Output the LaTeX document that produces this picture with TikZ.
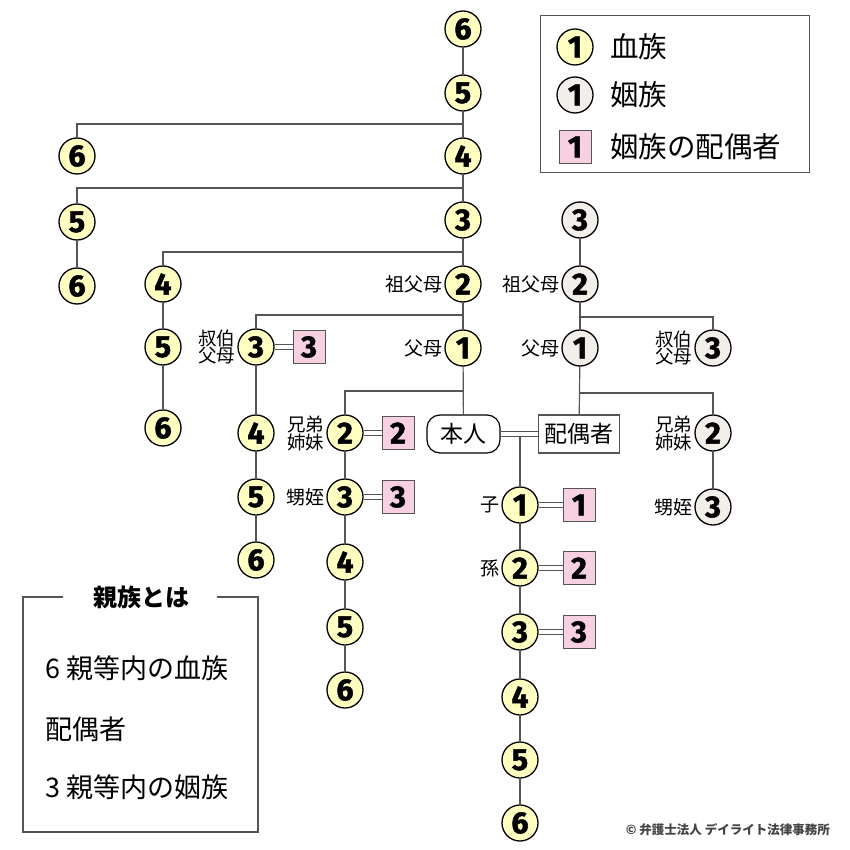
\documentclass[tikz,border=0pt]{standalone}
\usepackage{fontspec}
\newfontfamily\jp{Noto Sans CJK JP}
\newfontfamily\numfont[FakeBold=1.5]{Fira Sans Bold}
\usetikzlibrary{backgrounds}
\definecolor{bloodc}{HTML}{FFFFC2}
\definecolor{affc}{HTML}{F2EFEA}
\definecolor{pinkc}{HTML}{F7D0E2}
\definecolor{linec}{HTML}{555555}
\definecolor{copyc}{HTML}{444444}
\begin{document}
\begin{tikzpicture}[x=1pt,y=-1pt,
  blood/.style={circle, draw=black, line width=1.3pt, fill=bloodc, minimum size=36pt, inner sep=0pt,
    font=\numfont\fontsize{30.5pt}{30.5pt}\selectfont},
  affin/.style={blood, fill=affc},
  sp/.style={rectangle, draw=linec, line width=1pt, fill=pinkc, minimum width=32pt, minimum height=33pt, inner sep=0pt,
    font=\numfont\fontsize{30.5pt}{30.5pt}\selectfont},
  conn/.style={draw=linec, line width=1.2pt},
  dbl/.style={draw=linec, line width=1pt, double=white, double distance=3.2pt},
  lbl/.style={font=\jp\fontsize{19pt}{17pt}\selectfont, inner sep=0pt, align=right, label distance=2pt},
  lbltwo/.style={font=\jp\fontsize{18.5pt}{17pt}\selectfont, inner sep=0pt, align=right, label distance=2pt},
  boxtxt/.style={font=\jp\fontsize{23pt}{23pt}\selectfont, minimum height=38pt, inner sep=0pt},
  legtxt/.style={font=\jp\fontsize{28.5pt}{28.5pt}\selectfont, anchor=west, inner sep=0pt},
  infotxt/.style={font=\jp\fontsize{27pt}{27pt}\selectfont, anchor=west, inner sep=0pt},
]
\useasboundingbox (0,0) rectangle (850,850);

% main column
\node[blood] (m6) at (463,29) {6};
\node[blood] (m5) at (463,93) {5};
\node[blood] (m4) at (463,156) {4};
\node[blood] (m3) at (463,220) {3};
\node[blood, label={[lbl]west:祖父母}] (m2) at (463,284) {2};
\node[blood, label={[lbl]west:父母}] (m1) at (463,348) {1};
\node[boxtxt, draw=black, line width=1.2pt, rounded corners=13pt, minimum width=73pt] (self) at (463.5,434) {本人};
\node[boxtxt, draw=linec, line width=1.2pt, minimum width=81pt] (spouse) at (579,434) {配偶者};

% left branches
\node[blood] (a6) at (77,156) {6};
\node[blood] (b5) at (77,222) {5};
\node[blood] (b6) at (77,286) {6};
\node[blood] (c4) at (163,284) {4};
\node[blood] (c5) at (163,347) {5};
\node[blood] (c6) at (163,428) {6};
\node[blood, label={[lbltwo]west:叔伯\\父母}] (d3) at (256,347) {3};
\node[sp] (d3s) at (309,347) {3};
\node[blood] (d4) at (256,433) {4};
\node[blood] (d5) at (256,497) {5};
\node[blood] (d6) at (256,560) {6};
\node[blood, label={[lbltwo]west:兄弟\\姉妹}] (e2) at (345,433) {2};
\node[sp] (e2s) at (398,433) {2};
\node[blood, label={[lbl]west:甥姪}] (e3) at (345,497) {3};
\node[sp] (e3s) at (398,497) {3};
\node[blood] (e4) at (345,562) {4};
\node[blood] (e5) at (345,627) {5};
\node[blood] (e6) at (345,690) {6};

% spouse side
\node[affin] (s3) at (580,220) {3};
\node[affin, label={[lbl]west:祖父母}] (s2) at (580,284) {2};
\node[affin, label={[lbl]west:父母}] (s1) at (580,348) {1};
\node[affin, label={[lbltwo]west:叔伯\\父母}] (sd3) at (713,348) {3};
\node[affin, label={[lbltwo]west:兄弟\\姉妹}] (se2) at (713,433) {2};
\node[affin, label={[lbl]west:甥姪}] (se3) at (713,507) {3};

% children
\node[blood, label={[lbl]west:子}] (k1) at (520,505) {1};
\node[sp] (k1s) at (579,505) {1};
\node[blood, label={[lbl]west:孫}] (k2) at (520,568) {2};
\node[sp] (k2s) at (579,568) {2};
\node[blood] (k3) at (520,632) {3};
\node[sp] (k3s) at (579,632) {3};
\node[blood] (k4) at (520,697) {4};
\node[blood] (k5) at (520,760) {5};
\node[blood] (k6) at (520,823) {6};

% junctions
\coordinate (j1) at (463,124);
\coordinate (j2) at (463,188);
\coordinate (j3) at (463,252);
\coordinate (j4) at (463,315);
\coordinate (j5) at (463,391);
\coordinate (sj1) at (580,317);
\coordinate (sj2) at (580,393);
\coordinate (cj) at (520,436.1);

\begin{scope}[on background layer]
\fill[white] (0,0) rectangle (850,850);
\draw[conn] (m6) -- (m5);
\draw[conn] (m5) -- (m4);
\draw[conn] (m4) -- (m3);
\draw[conn] (m3) -- (m2);
\draw[conn] (m2) -- (m1);
\draw[conn] (m1) -- (self);
\draw[conn] (j1) -| (a6);
\draw[conn] (j2) -| (b5);
\draw[conn] (b5) -- (b6);
\draw[conn] (j3) -| (c4);
\draw[conn] (c4) -- (c5);
\draw[conn] (c5) -- (c6);
\draw[conn] (j4) -| (d3);
\draw[conn] (d3) -- (d4);
\draw[conn] (d4) -- (d5);
\draw[conn] (d5) -- (d6);
\draw[conn] (j5) -| (e2);
\draw[conn] (e2) -- (e3);
\draw[conn] (e3) -- (e4);
\draw[conn] (e4) -- (e5);
\draw[conn] (e5) -- (e6);
\draw[conn] (s3) -- (s2);
\draw[conn] (s2) -- (s1);
\draw[conn] (s1) -- (spouse);
\draw[conn] (sj1) -| (sd3);
\draw[conn] (sj2) -| (se2);
\draw[conn] (se2) -- (se3);
\draw[conn] (cj) -- (k1);
\draw[conn] (k1) -- (k2);
\draw[conn] (k2) -- (k3);
\draw[conn] (k3) -- (k4);
\draw[conn] (k4) -- (k5);
\draw[conn] (k5) -- (k6);
\draw[dbl] (self) -- (spouse);
\draw[dbl] (d3) -- (d3s);
\draw[dbl] (e2) -- (e2s);
\draw[dbl] (e3) -- (e3s);
\draw[dbl] (k1) -- (k1s);
\draw[dbl] (k2) -- (k2s);
\draw[dbl] (k3) -- (k3s);
\end{scope}

% legend
\node[draw=linec, line width=1.2pt, minimum width=269pt, minimum height=157pt, anchor=north west, inner sep=0pt] (legend) at (540,15) {};
\node[blood] (lg1) at (575,47) {1};
\node[legtxt] (lt1) at (610,47) {血族};
\node[affin] (lg2) at (575,95) {1};
\node[legtxt] (lt2) at (610,95) {姻族};
\node[sp] (lg3) at (575,147) {1};
\node[legtxt] (lt3) at (610,147) {姻族の配偶者};

% info box
\node[font=\jp\bfseries\fontsize{24pt}{24pt}\selectfont, inner sep=0pt] (ititle) at (141,597) {親族とは};
\coordinate (ib1) at (63,597);
\coordinate (ib2) at (23,832);
\coordinate (ib3) at (258,597);
\coordinate (ib4) at (217,597);
\draw[draw=linec, line width=1.2pt] (ib1) -| (ib2) -| (ib3) -- (ib4);
\node[infotxt] (i1) at (45,668) {6 親等内の血族};
\node[infotxt] (i2) at (45,729) {配偶者};
\node[infotxt] (i3) at (45,787) {3 親等内の姻族};

% copyright
\node[font=\jp\bfseries\fontsize{12.5pt}{12.5pt}\selectfont, text=copyc, anchor=east, inner sep=0pt] (copy) at (830,830) {© 弁護士法人 デイライト法律事務所};
\end{tikzpicture}
\end{document}
